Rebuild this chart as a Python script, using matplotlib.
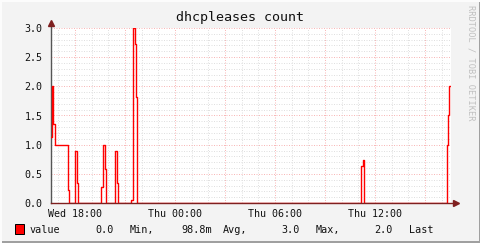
import matplotlib
matplotlib.use("Agg")
import matplotlib.pyplot as plt
from matplotlib.patches import Rectangle

# data: hours since Wed 00:00, value after each change (step)
hours = [16.56, 16.59, 16.70, 16.78, 17.55, 17.64,
         18.01, 18.10, 18.16,
         19.58, 19.68, 19.78, 19.84,
         20.40, 20.50, 20.56,
         21.38, 21.48, 21.58, 21.64, 21.70,
         35.18, 35.27, 35.37,
         40.30, 40.36, 40.42, 40.50]
values = [1.14, 2.0, 1.35, 1.0, 0.23, 0.0,
          0.9, 0.35, 0.0,
          0.27, 1.0, 0.59, 0.0,
          0.89, 0.35, 0.0,
          0.05, 3.0, 2.73, 1.81, 0.0,
          0.63, 0.74, 0.0,
          1.0, 1.5, 2.0, 2.0]

tick_hours = [18, 24, 30, 36]
tick_labels = ["Wed 18:00", "Thu 00:00", "Thu 06:00", "Thu 12:00"]
y_ticks = [0.0, 0.5, 1.0, 1.5, 2.0, 2.5, 3.0]

stat_values = ["0.0", "98.8m", "3.0", "2.0"]
stat_names = ["Min,", "Avg,", "Max,", "Last"]

W, H = 481, 243
x_start, x_end = 16.56, 40.56

plt.rcParams['font.family'] = ['DejaVu Sans Mono']

fig = plt.figure(figsize=(W / 100, H / 100), dpi=100, facecolor='#f3f3f3')
ax = fig.add_axes([51 / W, 40 / H, 400 / W, 175 / H])
ax.set_facecolor('white')

px = 0.72  # one pixel in points
grid_minor = '#e0e0e0'
grid_major = '#f8b8b8'
axis_col = '#7f1f1f'

# grid
for h in range(17, 41):
    col = grid_major if h % 3 == 0 else grid_minor
    ax.axvline(h, color=col, lw=px, ls=(0, (1, 1.5)), zorder=1)
for i in range(1, 31):
    v = i / 10
    col = grid_major if i % 5 == 0 else grid_minor
    ax.axhline(v, color=col, lw=px, ls=(0, (1, 1.5)), zorder=1)

ax.step(hours, values, where='post', color='#ff0000', lw=1.0, zorder=3)

ax.set_xlim(x_start, x_end)
ax.set_ylim(0, 3.0)

for s in ax.spines.values():
    s.set_visible(False)

# axes with arrows
ax.plot([0, 1.008], [0, 0], transform=ax.transAxes, color=axis_col, lw=1.0,
        clip_on=False, zorder=4)
ax.plot([0, 0], [0, 1.02], transform=ax.transAxes, color='#555555', lw=1.0,
        clip_on=False, zorder=2)
ax.plot([1.0135], [0], marker='>', ms=4, color=axis_col, transform=ax.transAxes,
        clip_on=False, zorder=4, mec=axis_col)
ax.plot([0], [1.03], marker='^', ms=4, color=axis_col, transform=ax.transAxes,
        clip_on=False, zorder=4, mec=axis_col)

ax.set_xticks(tick_hours)
ax.set_xticklabels(tick_labels)
ax.set_yticks(y_ticks)
ax.set_yticklabels(["%.1f" % v for v in y_ticks])
ax.tick_params(axis='both', length=0, labelsize=7.2, colors='#111111')
ax.tick_params(axis='x', pad=4)
ax.tick_params(axis='y', pad=6)

fig.text(240 / W, 1 - 18 / H, "dhcpleases count", ha='center', va='center',
         fontsize=9.6, color='#111111')
fig.text(471 / W, 1 - 5 / H, "RRDTOOL / TOBI OETIKER", rotation=270,
         ha='center', va='top', fontsize=6.2, color='#c0c0c0')

# legend
fig.patches.append(Rectangle((15 / W, 1 - 234 / H), 9 / W, 10 / H,
                             facecolor='#ff0000', edgecolor='black', lw=px,
                             transform=fig.transFigure, figure=fig))
ly = 1 - 229.5 / H
fig.text(30 / W, ly, "value", va='center', fontsize=7.3, color='#111111')
val_x = [95, 181, 281, 374]
name_x = [130, 223, 316, 409]
for v, n, vx, nx in zip(stat_values, stat_names, val_x, name_x):
    fig.text(vx / W, ly, v, va='center', fontsize=7.3, color='#111111')
    fig.text(nx / W, ly, n, va='center', fontsize=7.3, color='#111111')

# frame shading
fig.patches.append(Rectangle((0, 0), 1, 2 / H, facecolor='#a0a0a0', lw=0,
                             transform=fig.transFigure, figure=fig))
fig.patches.append(Rectangle((1 - 2 / W, 0), 2 / W, 1, facecolor='#a0a0a0', lw=0,
                             transform=fig.transFigure, figure=fig))
fig.patches.append(Rectangle((0, 1 - 2 / H), 1, 2 / H, facecolor='#fcfcfc', lw=0,
                             transform=fig.transFigure, figure=fig))
fig.patches.append(Rectangle((0, 0), 2 / W, 1, facecolor='#fcfcfc', lw=0,
                             transform=fig.transFigure, figure=fig))

fig.savefig("out.png", dpi=100, facecolor=fig.get_facecolor())
